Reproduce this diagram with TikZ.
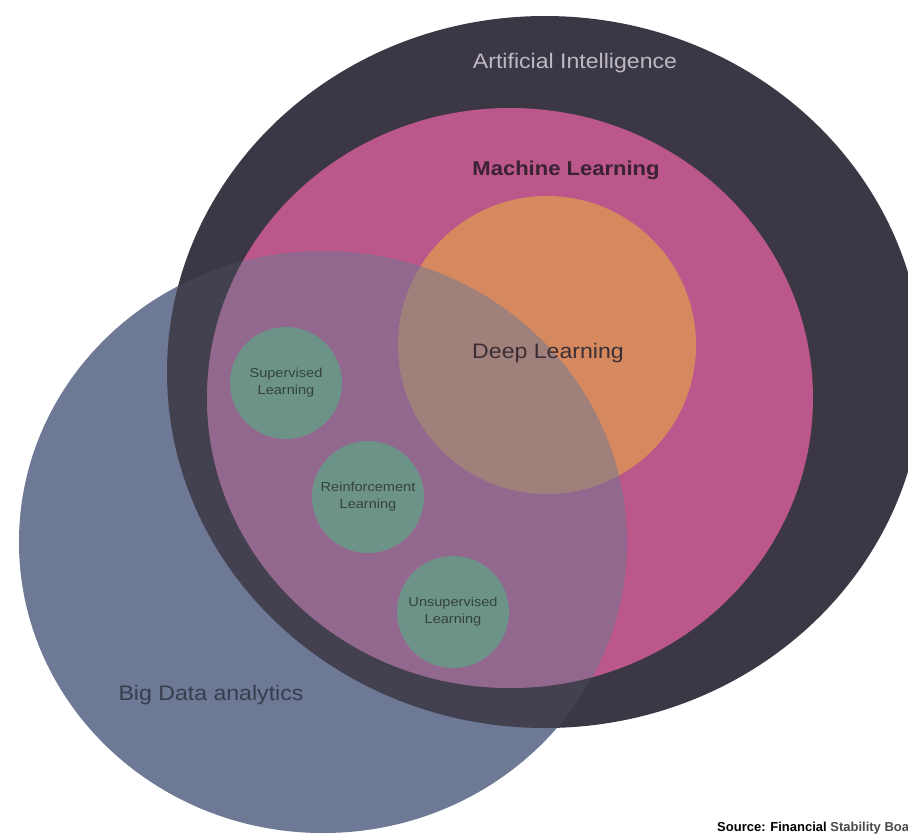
\documentclass[tikz,border=0pt]{standalone}
\usepackage{fontspec}
\setmainfont{Liberation Sans}
\newfontfamily\labfont[FakeStretch=1.1]{Liberation Sans}
\newfontfamily\smallfont[FakeStretch=1.12]{Liberation Sans}
\definecolor{aidark}{HTML}{3C3744}
\definecolor{mlpink}{HTML}{BB578A}
\definecolor{dlorange}{HTML}{D6895F}
\definecolor{bdblue}{HTML}{6D7995}
\definecolor{slgreen}{HTML}{6D9389}
\definecolor{aitext}{HTML}{BDB9C4}
\definecolor{mltext}{HTML}{3A2133}
\definecolor{dltext}{HTML}{3B2F36}
\definecolor{bdtext}{HTML}{383D4E}
\definecolor{smtext}{HTML}{34433F}
\tikzset{
  biglabel/.style={font=\labfont\fontsize{21}{24}\selectfont, inner sep=0pt, anchor=base},
  sublabel/.style={circle, fill=slgreen, minimum size=112pt, inner sep=0pt, align=center,
    text=smtext, font=\smallfont\fontsize{13}{17}\selectfont},
}
\begin{document}
\begin{tikzpicture}[x=1pt,y=-1pt]
\useasboundingbox (0,0) rectangle (908,835);
\clip (0,0) rectangle (908,835);
\fill[white] (0,0) rectangle (908,835);
% Big Data base
\fill[bdblue] (323,542) ellipse [x radius=304pt, y radius=291pt];
% AI
\fill[aidark] (545,372) ellipse [x radius=378pt, y radius=356pt];
% ML
\fill[mlpink] (510,398) ellipse [x radius=303pt, y radius=290pt];
% DL
\fill[dlorange] (547,345) circle [radius=149pt];
% Big Data translucent overlay
\fill[bdblue, fill opacity=0.15] (323,542) ellipse [x radius=304pt, y radius=291pt];
\begin{scope}
  \clip (510,398) ellipse [x radius=303pt, y radius=290pt];
  \fill[bdblue, fill opacity=0.42] (323,542) ellipse [x radius=304pt, y radius=291pt];
\end{scope}
% labels
\node[biglabel, text=aitext] (ai) at (575,68) {Artificial Intelligence};
\node[biglabel, text=mltext, font=\labfont\bfseries\fontsize{20}{24}\selectfont] (ml) at (566,175) {Machine Learning};
\node[biglabel, text=dltext] (dl) at (548,358) {Deep Learning};
\node[biglabel, text=bdtext] (bd) at (211,700) {Big Data analytics};
% sub circles
\node[sublabel] (sup) at (286,383) {Supervised\\Learning};
\node[sublabel] (rein) at (368,497) {Reinforcement\\Learning};
\node[sublabel] (unsup) at (453,612) {Unsupervised\\Learning};
% source (cut off at the right edge, as in the reference)
\node[anchor=base west, inner sep=0pt, font=\bfseries\fontsize{13}{15}\selectfont] (src) at (717,831)
  {Source: Financial \textcolor[HTML]{4A4A4A}{Stability Board}};
\end{tikzpicture}
\end{document}
